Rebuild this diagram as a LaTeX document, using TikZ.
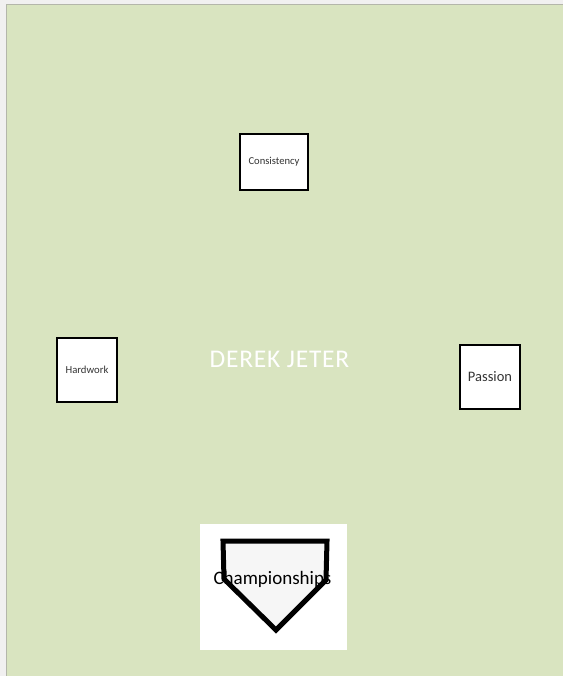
\documentclass[tikz,border=0pt]{standalone}
\usepackage{fontspec}
\setmainfont{Carlito}
\definecolor{field}{HTML}{D9E4C0}
\definecolor{frame}{HTML}{F1F0F0}
\definecolor{edge}{HTML}{B4B6AA}
\definecolor{platefill}{HTML}{F6F6F6}
\begin{document}
\begin{tikzpicture}[x=1pt,y=-1pt,
  base/.style={draw=black,line width=1.4pt,fill=white,inner sep=0pt,text=black!80},
  lbl/.style={inner sep=0pt}]
\useasboundingbox (0,0) rectangle (563,676);
\fill[frame] (0,0) rectangle (563,676);
\fill[field] (6,5) rectangle (563,676);
\draw[edge,line width=1pt] (6,676) -- (6,5) -- (563,5);
% boxes
\node[base,minimum width=68pt,minimum height=56pt,font=\fontsize{10.6}{12}\selectfont] (cons) at (274,162) {Consistency};
\node[base,minimum width=60pt,minimum height=64pt,font=\fontsize{10.7}{12}\selectfont] (hard) at (87,370) {Hardwork};
\node[base,minimum width=60pt,minimum height=64pt,font=\fontsize{14.5}{16}\selectfont] (pass) at (490,377) {Passion};
\node[lbl,text=white,font=\fontsize{25.5}{27}\selectfont\addfontfeatures{LetterSpace=3}] (name) at (279.5,359) {DEREK JETER};
% home plate picture
\node[fill=white,minimum width=147pt,minimum height=126pt,inner sep=0pt] (pic) at (273.5,587) {};
\draw[line width=5pt,fill=platefill,line join=miter] (223,541) -- (327,541) -- (326,580) -- (276,630) -- (224,579) -- cycle;
\node[lbl,text=black,font=\fontsize{19}{21}\selectfont] (champ) at (272.5,579) {Championships};
\end{tikzpicture}
\end{document}
